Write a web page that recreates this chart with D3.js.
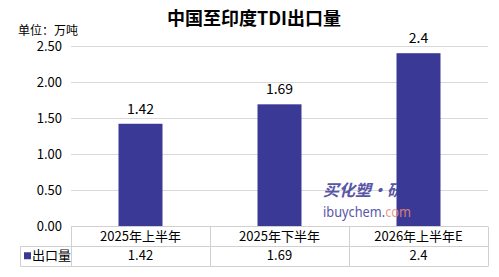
<!DOCTYPE html>
<html>
<head>
<meta charset="utf-8">
<script src="https://cdn.jsdelivr.net/npm/d3@7"></script>
<style>
  body { margin: 0; background: #fff; }
  svg { display: block; font-family: "Noto Sans CJK SC", "Noto Sans", sans-serif; }
</style>
</head>
<body>
<svg width="499" height="277"></svg>
<script>
// data
const categories = ['2025年上半年', '2025年下半年', '2026年上半年E'];
const values = [1.42, 1.69, 2.4];
const valueLabels = ['1.42', '1.69', '2.4'];
const yTicks = [0, 0.5, 1.0, 1.5, 2.0, 2.5];
const seriesName = '出口量';

const svg = d3.select('svg');
const barColor = '#3b3996';

const margin = { top: 46, left: 71, right: 11 };
const plotBottom = 226;
const width = +svg.attr('width');
const innerWidth = width - margin.left - margin.right;

const xScale = d3.scaleBand()
    .domain(categories)
    .range([margin.left, margin.left + innerWidth])
    .paddingInner(0)
    .paddingOuter(0);

const yScale = d3.scaleLinear()
    .domain([0, 2.5])
    .range([plotBottom, margin.top]);

// title + unit
svg.append('text')
    .attr('x', 254).attr('y', 25)
    .attr('text-anchor', 'middle')
    .attr('font-size', 18).attr('font-weight', 'bold')
    .attr('fill', '#000')
    .text('中国至印度TDI出口量');

svg.append('text')
    .attr('x', 18).attr('y', 35)
    .attr('font-size', 12)
    .attr('fill', '#000')
    .text('单位：万吨');

// gridlines
svg.append('g')
    .selectAll('line')
    .data(yTicks.filter(d => d > 0))
    .join('line')
    .attr('x1', margin.left).attr('x2', margin.left + innerWidth)
    .attr('y1', d => Math.round(yScale(d)) + 0.5)
    .attr('y2', d => Math.round(yScale(d)) + 0.5)
    .attr('stroke', '#d9d9d9');

// y axis tick labels
const yAxis = d3.axisLeft(yScale)
    .tickValues(yTicks)
    .tickFormat(d3.format('.2f'))
    .tickSize(0)
    .tickPadding(9);

const yAxisG = svg.append('g')
    .attr('transform', `translate(${margin.left},0)`)
    .call(yAxis);
yAxisG.select('.domain').remove();
yAxisG.selectAll('text')
    .attr('font-size', 13)
    .attr('font-family', '"Noto Sans CJK SC", sans-serif')
    .attr('fill', '#000');

// bars
const barWidth = 44;
svg.append('g')
    .selectAll('rect')
    .data(values)
    .join('rect')
    .attr('x', (d, i) => xScale(categories[i]) + xScale.bandwidth() / 2 - barWidth / 2)
    .attr('y', d => yScale(d))
    .attr('width', barWidth)
    .attr('height', d => plotBottom - yScale(d))
    .attr('fill', barColor);

// value labels
svg.append('g')
    .selectAll('text')
    .data(values)
    .join('text')
    .attr('x', (d, i) => xScale(categories[i]) + xScale.bandwidth() / 2)
    .attr('y', d => yScale(d) - 10)
    .attr('text-anchor', 'middle')
    .attr('font-size', 14)
    .attr('fill', '#000')
    .text((d, i) => valueLabels[i]);

// watermark, semi-transparent over the bars
const wm = svg.append('g').attr('opacity', 0.85);
wm.append('text')
    .attr('x', 323).attr('y', 196)
    .attr('font-size', 16).attr('font-weight', 'bold').attr('font-style', 'italic')
    .attr('fill', '#3b3a98')
    .text('买化塑·研');
const wmUrl = wm.append('text')
    .attr('x', 323).attr('y', 217)
    .attr('font-size', 15).attr('font-family', '"Noto Sans", sans-serif')
    .attr('textLength', 88).attr('lengthAdjust', 'spacingAndGlyphs')
    .attr('fill', '#3b3a98');
wmUrl.append('tspan').text('ibuychem.');
wmUrl.append('tspan').attr('fill', '#f08a78').text('com');

// data table
const rowH = 19.5;
const tableLeft = 20.5;
const borderColor = '#d0d0d0';
const table = svg.append('g');
const tableRight = margin.left + innerWidth;
const tableTop = plotBottom + 0.5;

// horizontal lines
table.append('line')
    .attr('x1', margin.left).attr('x2', tableRight)
    .attr('y1', tableTop).attr('y2', tableTop)
    .attr('stroke', borderColor);
[tableTop + rowH, tableTop + 2 * rowH].forEach(y => {
    table.append('line')
        .attr('x1', tableLeft).attr('x2', tableRight)
        .attr('y1', Math.round(y) + 0.5).attr('y2', Math.round(y) + 0.5)
        .attr('stroke', borderColor);
});
// vertical lines
const vx = [margin.left, ...categories.map(c => xScale(c) + xScale.bandwidth())];
vx.forEach(x => {
    table.append('line')
        .attr('x1', Math.round(x) + 0.5).attr('x2', Math.round(x) + 0.5)
        .attr('y1', tableTop).attr('y2', Math.round(tableTop + 2 * rowH) + 0.5)
        .attr('stroke', borderColor);
});
table.append('line')
    .attr('x1', tableLeft).attr('x2', tableLeft)
    .attr('y1', Math.round(tableTop + rowH) + 0.5).attr('y2', Math.round(tableTop + 2 * rowH) + 0.5)
    .attr('stroke', borderColor);

// category row
table.selectAll('.cat')
    .data(categories)
    .join('text')
    .attr('class', 'cat')
    .attr('x', d => xScale(d) + xScale.bandwidth() / 2)
    .attr('y', tableTop + rowH / 2)
    .attr('dy', '0.35em')
    .attr('text-anchor', 'middle')
    .attr('font-size', 13)
    .attr('fill', '#000')
    .text(d => d);

// value row
table.selectAll('.val')
    .data(values)
    .join('text')
    .attr('class', 'val')
    .attr('x', (d, i) => xScale(categories[i]) + xScale.bandwidth() / 2)
    .attr('y', tableTop + rowH * 1.5)
    .attr('dy', '0.35em')
    .attr('text-anchor', 'middle')
    .attr('font-size', 13)
    .attr('fill', '#000')
    .text((d, i) => valueLabels[i]);

// legend key
table.append('rect')
    .attr('x', 24).attr('y', tableTop + rowH * 1.5 - 3.5)
    .attr('width', 7).attr('height', 7)
    .attr('fill', barColor);
table.append('text')
    .attr('x', 32).attr('y', tableTop + rowH * 1.5)
    .attr('dy', '0.35em')
    .attr('font-size', 13)
    .attr('fill', '#000')
    .text(seriesName);
</script>
</body>
</html>
